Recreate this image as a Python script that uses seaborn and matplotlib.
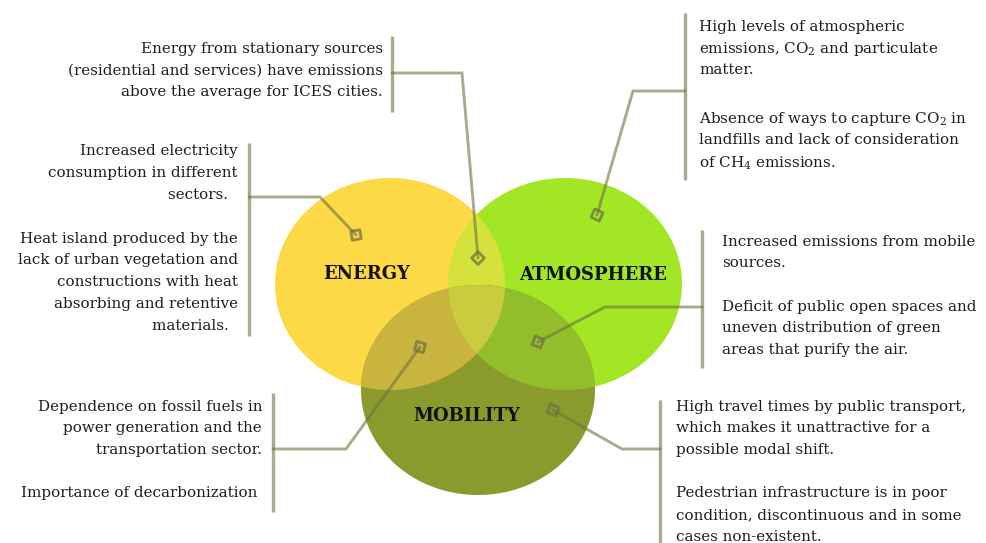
import numpy as np
import matplotlib
matplotlib.use("Agg")
import matplotlib.pyplot as plt
import seaborn as sns
import pandas as pd

# ---------------- data ----------------
categories = ["ENERGY", "ATMOSPHERE", "MOBILITY"]
pure_colors = ["#FDD947", "#A2E626", "#8B9A2C"]
overlap_colors = {"EA": "#D5E23B", "EM": "#C8B43E", "AM": "#92BE2C", "EAM": "#CACB3E"}

notes_energy_top = ["Energy from stationary sources",
                    "(residential and services) have emissions",
                    "above the average for ICES cities."]
notes_energy_left_1 = ["Increased electricity", "consumption in different", "sectors.  "]
notes_energy_left_2 = ["Heat island produced by the", "lack of urban vegetation and",
                       "constructions with heat", "absorbing and retentive", "materials.  "]
notes_atmo_top_1 = ["High levels of atmospheric", "emissions, CO$_2$ and particulate", "matter."]
notes_atmo_top_2 = ["Absence of ways to capture CO$_2$ in",
                    "landfills and lack of consideration", "of CH$_4$ emissions."]
notes_atmo_right_1 = ["Increased emissions from mobile", "sources."]
notes_atmo_right_2 = ["Deficit of public open spaces and", "uneven distribution of green",
                      "areas that purify the air."]
notes_mob_left_1 = ["Dependence on fossil fuels in", "power generation and the",
                    "transportation sector."]
notes_mob_left_2 = ["Importance of decarbonization "]
notes_mob_right_1 = ["High travel times by public transport,",
                     "which makes it unattractive for a", "possible modal shift."]
notes_mob_right_2 = ["Pedestrian infrastructure is in poor",
                     "condition, discontinuous and in some", "cases non-existent."]

# ---------------- layout (pixels) ----------------
W, H = 987, 543
ellipses = {  # cx, cy, rx, ry
    "ENERGY": (390, 284, 115, 106),
    "ATMOSPHERE": (565, 284, 117, 106),
    "MOBILITY": (478, 390, 117, 105),
}
label_pos = {"ENERGY": (367, 272), "ATMOSPHERE": (593, 273), "MOBILITY": (467, 414)}

sns.set_theme(style="white")
plt.rcParams["font.family"] = ["DejaVu Serif"]
plt.rcParams["mathtext.fontset"] = "dejavuserif"

fig = plt.figure(figsize=(W / 100, H / 100), dpi=100)
ax = fig.add_axes([0, 0, 1, 1])
ax.set_xlim(0, W)
ax.set_ylim(H, 0)
ax.axis("off")


def ellipse_poly(c, n=240):
    cx, cy, rx, ry = c
    t = np.linspace(0, 2 * np.pi, n, endpoint=False)
    return np.column_stack([cx + rx * np.cos(t), cy + ry * np.sin(t)])


def clip_poly(subject, clipper):
    out = list(map(tuple, subject))
    cl = list(map(tuple, clipper))
    for i in range(len(cl)):
        a = cl[i]
        b = cl[(i + 1) % len(cl)]
        inp = out
        out = []
        if not inp:
            break

        def inside(p):
            return (b[0] - a[0]) * (p[1] - a[1]) - (b[1] - a[1]) * (p[0] - a[0]) >= 0

        def inter(p, q):
            x1, y1 = p; x2, y2 = q; x3, y3 = a; x4, y4 = b
            den = (x1 - x2) * (y3 - y4) - (y1 - y2) * (x3 - x4)
            tt = ((x1 - x3) * (y3 - y4) - (y1 - y3) * (x3 - x4)) / den
            return (x1 + tt * (x2 - x1), y1 + tt * (y2 - y1))

        s = inp[-1]
        for e in inp:
            if inside(e):
                if not inside(s):
                    out.append(inter(s, e))
                out.append(e)
            elif inside(s):
                out.append(inter(s, e))
            s = e
    return np.array(out)


E = ellipse_poly(ellipses["ENERGY"])
A = ellipse_poly(ellipses["ATMOSPHERE"])
M = ellipse_poly(ellipses["MOBILITY"])
EA = clip_poly(E, A)
EM = clip_poly(M, E)
AM = clip_poly(M, A)
EAM = clip_poly(EA, M)

for poly, col in [(E, pure_colors[0]), (A, pure_colors[1]), (EA, overlap_colors["EA"]),
                  (M, pure_colors[2]), (EM, overlap_colors["EM"]), (AM, overlap_colors["AM"]),
                  (EAM, overlap_colors["EAM"])]:
    ax.fill(poly[:, 0], poly[:, 1], color=col, lw=0, zorder=1)

for cat in categories:
    x, y = label_pos[cat]
    ax.text(x, y, cat, ha="center", va="center_baseline", fontsize=13,
            fontweight="bold", color="#111111", zorder=5)

# ---------------- leaders ----------------
bar_color = "#A9AB8F"
line_color = "#6E7440"
leaders = [  # bar x, bar y0, bar y1, polyline points, marker angle
    (392, 36, 112, [(392, 73), (462, 73), (478, 258)], 0),
    (249, 143, 336, [(249, 197), (320, 197), (356, 235)], 55),
    (685, 13, 180, [(685, 91), (633, 91), (597, 215)], 20),
    (702, 230, 368, [(702, 307), (605, 307), (538, 342)], 25),
    (273, 393, 512, [(273, 449), (346, 449), (420, 347)], 30),
    (660, 400, 545, [(660, 449), (622, 449), (553, 410)], 25),
]
for bx, by0, by1, pts, ang in leaders:
    ax.plot([bx, bx], [by0, by1], color=bar_color, lw=2.4, solid_capstyle="butt", zorder=3)
    px = [p[0] for p in pts]
    py = [p[1] for p in pts]
    ax.plot(px, py, color=line_color, alpha=0.6, lw=2.1, solid_joinstyle="miter", zorder=3)
    df = pd.DataFrame({"x": [px[-1]], "y": [py[-1]]})
    sns.scatterplot(data=df, x="x", y="y", ax=ax, marker=(4, 0, ang), s=85,
                    facecolor="none", edgecolor=line_color, linewidth=2.0, alpha=0.75,
                    zorder=4, legend=False)

# ---------------- texts ----------------
FS = 10.9
STEP = 21.8
TXT = "#1E1E1E"


def block(lines, x, y0, ha):
    for i, ln in enumerate(lines):
        ax.text(x, y0 + i * STEP, ln, ha=ha, va="center_baseline", fontsize=FS, color=TXT, zorder=5)


block(notes_energy_top, 383, 47, "right")
block(notes_energy_left_1, 238, 150, "right")
block(notes_energy_left_2, 238, 237, "right")
block(notes_atmo_top_1, 699, 25, "left")
block(notes_atmo_top_2, 699, 117, "left")
block(notes_atmo_right_1, 722, 240, "left")
block(notes_atmo_right_2, 722, 305, "left")
block(notes_mob_left_1, 262, 405, "right")
block(notes_mob_left_2, 262, 492, "right")
block(notes_mob_right_1, 676, 405, "left")
block(notes_mob_right_2, 676, 492, "left")

ax.set_xlabel("")
ax.set_ylabel("")
fig.savefig("out.png", dpi=100)
